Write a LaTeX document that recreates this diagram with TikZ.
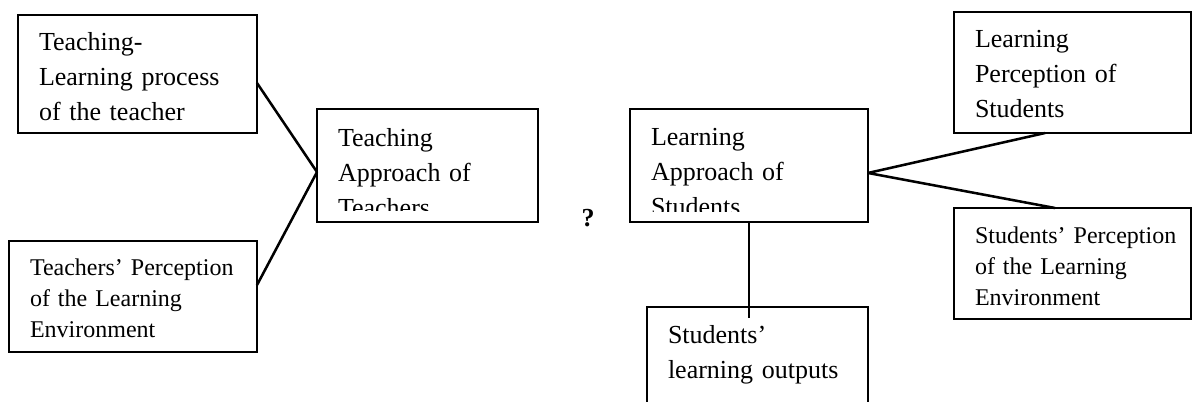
\documentclass[tikz,border=0pt]{standalone}
\usepackage{fontspec}
\setmainfont{Liberation Serif}

\begin{document}
\begin{tikzpicture}[x=0.75pt, y=-0.75pt,
    box/.style = {draw, line width=1.5pt, anchor=north west, outer sep=0pt, inner xsep=15.75pt, inner ysep=0pt, align=left, font=\fontsize{19.5pt}{26.25pt}\selectfont, text height=26.25pt},
    sbox/.style = {box, font=\fontsize{18pt}{23.25pt}\selectfont},
    link/.style = {line width=1.9pt}
]
\useasboundingbox (0,0) rectangle (1192,401);
\clip (0,0) rectangle (1192,401);

\node (tlp) [box, text width=147.75pt, text depth=62.25pt] at (18,15) {Teaching-\\Learning process\\of the teacher};
\node (tpe) [sbox, text width=154.5pt, text height=25.5pt, text depth=57.75pt] at (9,241) {\mbox{Teachers’ Perception}\\of the Learning\\Environment};
\node (tap) [box, text width=134.25pt, text height=27.75pt, text depth=57pt] at (317,109) {Teaching\\Approach of\\Teachers};

\node (q) [font=\fontsize{19.5pt}{26.25pt}\selectfont\bfseries] at (588,218) {?};

\node (lap) [box, text width=147pt, text height=27pt, text depth=57.75pt] at (630,109) {Learning\\Approach of\\Students};
\node (lps) [box, text width=146.25pt, text depth=64.5pt] at (954,12) {Learning\\Perception of\\Students};
\node (spe) [sbox, text width=146.25pt, text height=26.25pt, text depth=57pt] at (954,208) {\mbox{Students’ Perception}\\of the Learning\\Environment};
\node (slo) [box, text width=134.25pt, text height=27pt, text depth=70.5pt] at (647,307) {Students’\\learning outputs};

% last line of the two approach boxes is cut off
\fill[white] ([shift={(1pt,1pt)}]tap.south west) rectangle ([shift={(-1pt,8.5pt)}]tap.south east);
\fill[white] ([shift={(1pt,1pt)}]lap.south west) rectangle ([shift={(-1pt,7.5pt)}]lap.south east);

\coordinate (tj) at ([yshift=-4.9pt]tap.west);
\coordinate (lj) at ([yshift=-5.6pt]lap.east);

\draw[link] ([yshift=-6.75pt]tlp.east) -- (tj);
\draw[link] ([yshift=8.6pt]tpe.east) -- (tj);
\draw[link] (lj) -- ([xshift=-20.6pt]lps.south);
\draw[link] (lj) -- ([xshift=-13.1pt]spe.north);
\draw[link] (lap.south) -- ([yshift=-8.25pt]lap.south |- slo.north);
\end{tikzpicture}
\end{document}
